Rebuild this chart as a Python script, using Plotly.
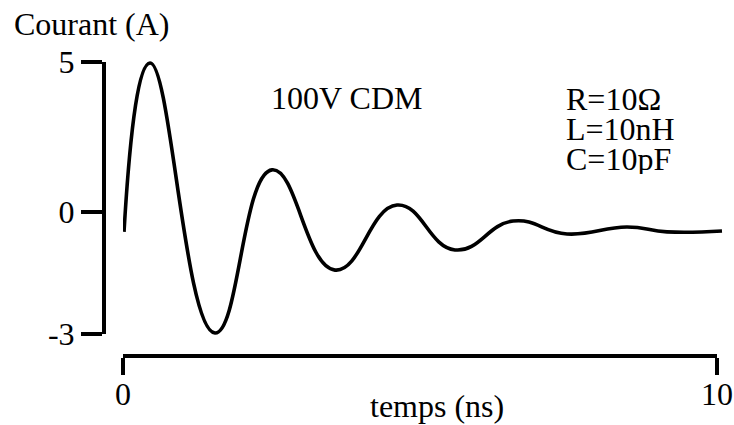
import plotly.graph_objects as go

# Data (time in ns, current in chart units)
t_ns = [0.017, 0.455, 1.549, 2.508, 3.569, 4.613, 5.589, 6.566, 7.475, 8.485, 9.158,
        10.084]
current = [-0.66, 4.95, -4.02, 1.40, -1.93, 0.23, -1.26, -0.30, -0.73, -0.50, -0.66,
           -0.63]

x_tick_vals = [0, 10]
x_tick_text = ["0", "10"]
y_tick_vals = [5, 0, -4.053]
y_tick_text = ["5", "0", "-3"]

W, H = 734, 425
FONT = "Liberation Serif"
FS = 32

def px_x(p):
    return p / W

def px_y(p):
    return (H - p) / H

fig = go.Figure()

fig.add_trace(go.Scatter(
    x=t_ns, y=current, mode="lines",
    line=dict(color="black", width=3.6, shape="spline", smoothing=1.3),
    showlegend=False, hoverinfo="skip",
))
# carrier trace for the displayed axes
fig.add_trace(go.Scatter(x=[None], y=[None], xaxis="x2", yaxis="y2",
                         showlegend=False, hoverinfo="skip"))

fig.update_layout(
    width=W, height=H,
    margin=dict(l=0, r=0, t=0, b=0, pad=0, autoexpand=False),
    paper_bgcolor="white", plot_bgcolor="rgba(0,0,0,0)",
    font=dict(family=FONT, size=FS, color="black"),
    xaxis=dict(domain=[px_x(123), 1.0], range=[0, (W - 123) / 59.4], visible=False,
               fixedrange=True, automargin=False),
    yaxis=dict(domain=[px_y(350), px_y(40)],
               range=[(212 - 350) / 30.1, (212 - 40) / 30.1], visible=False,
               fixedrange=True, automargin=False),
    xaxis2=dict(domain=[px_x(123), px_x(717)], range=[0, 10], anchor="free",
                position=px_y(356), showline=True, linewidth=4, linecolor="black",
                ticks="outside", ticklen=17, tickwidth=4, tickcolor="black",
                tickvals=x_tick_vals, ticktext=x_tick_text, showgrid=False,
                zeroline=False, automargin=False, fixedrange=True,
                ticklabelstandoff=-8,
                tickfont=dict(family=FONT, size=FS)),
    yaxis2=dict(domain=[px_y(334), px_y(61.5)], range=[-4.053, 5], anchor="free",
                position=px_x(104), showline=True, linewidth=4, linecolor="black",
                ticks="outside", ticklen=21, tickwidth=4, tickcolor="black",
                tickvals=y_tick_vals, ticktext=y_tick_text, showgrid=False,
                zeroline=False, automargin=False, fixedrange=True,
                tickfont=dict(family=FONT, size=FS)),
)

annos = [
    ("Courant (A)", 12, 24, "left", None),
    ("temps (ns)", 437, 406, "center", None),
    ("100V CDM", 269, 98, "left", None),
    ("R=10Ω", 564, 99, "left", 30),
    ("L=10nH", 564, 129, "left", 30),
    ("C=10pF", 564, 159, "left", 30),
]
for txt, x, y, xa, h in annos:
    kw = dict(height=h) if h else {}
    fig.add_annotation(text=txt, x=px_x(x), y=px_y(y), xref="paper", yref="paper",
                       xanchor=xa, yanchor="middle", showarrow=False,
                       font=dict(family=FONT, size=FS, color="black"), **kw)

fig.write_html("out.html")
